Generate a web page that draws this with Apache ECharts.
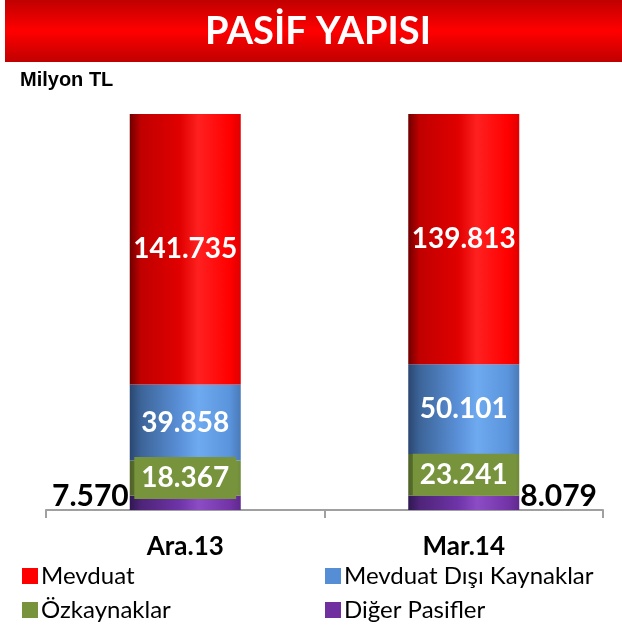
<!DOCTYPE html>
<html lang="tr">
<head>
    <meta charset="UTF-8">
    <title>Pasif Yapisi</title>
    <script src="https://cdn.jsdelivr.net/npm/echarts@6/dist/echarts.min.js"></script>
    <style>
        body { margin: 0; background: #fff; }
    </style>
</head>
<body>
<div id="chart" style="width: 622px;height:630px;"></div>
<script>
    // veriler (Milyon TL)
    var categories = ['Ara.13', 'Mar.14'];
    var mevduat = [141735, 139813];
    var mevduatDisi = [39858, 50101];
    var ozkaynak = [18367, 23241];
    var digerPasif = [7570, 8079];
    var legendLeft = ['Mevduat', 'Özkaynaklar'];
    var legendRight = ['Mevduat Dışı Kaynaklar', 'Diğer Pasifler'];

    var flatColors = {
        'Mevduat': '#ff0000',
        'Mevduat Dışı Kaynaklar': '#558ed5',
        'Özkaynaklar': '#77933c',
        'Diğer Pasifler': '#7030a0'
    };

    var totals = categories.map(function (c, i) {
        return mevduat[i] + mevduatDisi[i] + ozkaynak[i] + digerPasif[i];
    });
    function pct(arr) {
        return arr.map(function (v, i) { return v / totals[i] * 100; });
    }
    function fmt(v) {
        return String(v).replace(/\B(?=(\d{3})+(?!\d))/g, '.');
    }
    // yatay "silindir" gradyani
    var stopPos = [0, 0.1, 0.45, 0.62, 0.9, 1];
    function grad(cols) {
        return new echarts.graphic.LinearGradient(0, 0, 1, 0, cols.map(function (c, i) {
            return { offset: stopPos[i], color: c };
        }));
    }
    function legendItems(names) {
        return names.map(function (n) {
            return { name: n, itemStyle: { color: flatColors[n] } };
        });
    }

    var raw = {
        'Mevduat': mevduat,
        'Mevduat Dışı Kaynaklar': mevduatDisi,
        'Özkaynaklar': ozkaynak,
        'Diğer Pasifler': digerPasif
    };
    function rawLabel(p) {
        return fmt(raw[p.seriesName][p.dataIndex]);
    }
    var innerLabel = {
        show: true,
        position: 'inside',
        color: '#fff',
        fontFamily: 'Lato',
        fontWeight: 'bold',
        fontSize: 28,
        formatter: rawLabel
    };
    var legendBase = {
        orient: 'vertical',
        top: 564,
        padding: 0,
        itemWidth: 16, itemHeight: 16, itemGap: 10,
        icon: 'rect',
        textStyle: { fontFamily: 'Lato', fontSize: 24, lineHeight: 22, color: '#000', padding: [0, 0, 0, -2] }
    };

    var myChart = echarts.init(document.getElementById('chart'));
    myChart.setOption({
        animation: false,
        graphic: [{
            type: 'rect',
            shape: { x: 5, y: 0, width: 617, height: 62 },
            style: {
                fill: new echarts.graphic.LinearGradient(0, 0, 0, 1, [
                    { offset: 0, color: '#c00000' },
                    { offset: 0.5, color: '#ff0000' },
                    { offset: 1, color: '#c00000' }
                ])
            }
        }, {
            type: 'text',
            x: 318, y: 32,
            style: {
                text: 'PASİF YAPISI',
                fill: '#fff',
                font: 'bold 38px Lato',
                align: 'center',
                verticalAlign: 'middle'
            }
        }, {
            type: 'text',
            x: 20, y: 80,
            style: {
                text: 'Milyon TL',
                fill: '#000',
                font: 'bold 20px "Liberation Sans"',
                verticalAlign: 'middle'
            }
        }],
        legend: [
            Object.assign({}, legendBase, { left: 22, data: legendItems(legendLeft) }),
            Object.assign({}, legendBase, { left: 325, data: legendItems(legendRight) })
        ],
        grid: { left: 46, right: 19, top: 114, bottom: 120 },
        xAxis: {
            type: 'category',
            data: categories,
            axisLine: { lineStyle: { color: '#a0a0a0', width: 2 } },
            axisTick: { show: true, length: 8, lineStyle: { color: '#a0a0a0', width: 2 } },
            axisLabel: { color: '#000', fontFamily: 'Lato', fontWeight: 'bold', fontSize: 26, margin: 24 }
        },
        yAxis: { type: 'value', min: 0, max: 100, show: false, splitLine: { show: false } },
        series: [{
            name: 'Diğer Pasifler',
            type: 'bar', stack: 'total', barWidth: 111,
            itemStyle: { color: grad(['#2e1850', '#4e2478', '#6e34a8', '#8c4cc4', '#7434a8', '#60288c']) },
            data: pct(digerPasif).map(function (v, i) {
                return {
                    value: v,
                    label: {
                        show: true,
                        position: i === 0 ? 'left' : 'right',
                        distance: 1,
                        offset: [0, -6],
                        color: '#000',
                        fontFamily: 'Lato',
                        fontWeight: 'bold',
                        fontSize: 30,
                        formatter: rawLabel
                    }
                };
            })
        }, {
            name: 'Özkaynaklar',
            type: 'bar', stack: 'total', barWidth: 111,
            itemStyle: { color: grad(['#4f6228', '#627a30', '#77933c', '#9bbb59', '#86a448', '#6f8a38']) },
            label: Object.assign({}, innerLabel, {
                backgroundColor: '#77933c',
                padding: [8, 7, 6, 7]
            }),
            data: pct(ozkaynak)
        }, {
            name: 'Mevduat Dışı Kaynaklar',
            type: 'bar', stack: 'total', barWidth: 111,
            itemStyle: { color: grad(['#2a4670', '#3c6498', '#5a90d8', '#6eaaf0', '#5a94dc', '#4a7ab8']) },
            label: innerLabel,
            data: pct(mevduatDisi)
        }, {
            name: 'Mevduat',
            type: 'bar', stack: 'total', barWidth: 111,
            itemStyle: { color: grad(['#700000', '#c00000', '#e00000', '#ff2020', '#ff0000', '#e00000']) },
            label: innerLabel,
            data: pct(mevduat)
        }]
    });
</script>
</body>
</html>
